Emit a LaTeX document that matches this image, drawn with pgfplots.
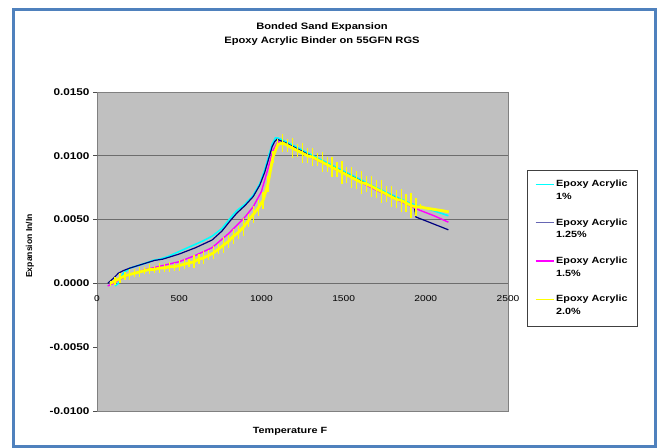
\documentclass[border=0pt]{standalone}
\usepackage{pgfplots}
\pgfplotsset{compat=1.18}
\usepackage{fontspec}
\setmainfont{Liberation Sans}[FakeStretch=1.2]
\newfontfamily\plainsans{Liberation Sans}
\definecolor{framebl}{RGB}{79,129,189}
\definecolor{plotgray}{RGB}{192,192,192}
\definecolor{gridgray}{RGB}{128,128,128}
\definecolor{ecyan}{RGB}{0,255,255}
\definecolor{enavy}{RGB}{0,0,128}
\definecolor{emag}{RGB}{255,0,255}
\definecolor{eyel}{RGB}{255,255,0}
\begin{document}
\begin{tikzpicture}[x=1bp,y=1bp]
\useasboundingbox (0,0) rectangle (665,448);
\fill[white] (0,0) rectangle (665,448);
\draw[framebl, line width=3bp] (13.5,1.5) rectangle (655,438);
\node[font=\bfseries\fontsize{9.3bp}{14bp}\selectfont, align=center] at (322,414) {Bonded Sand Expansion\\Epoxy Acrylic Binder on 55GFN RGS};
\node[font=\bfseries\fontsize{9bp}{11bp}\selectfont] at (290,17) {Temperature F};
\node[font=\plainsans\bfseries\fontsize{8.6bp}{10bp}\selectfont, rotate=90] at (30,202) {Expansion In/In};
\begin{axis}[
  at={(97bp,37bp)}, anchor=south west, scale only axis, width=411bp, height=319bp,
  xmin=0, xmax=2500, ymin=-0.01, ymax=0.015,
  axis background/.style={fill=plotgray},
  axis line style={draw=gridgray, line width=0.8bp},
  xtick={0,500,1000,1500,2000,2500}, xticklabels={0,500,1000,1500,2000,2500},
  xtick style={draw=none},
  xticklabel shift=-123bp,
  x tick label style={font=\fontsize{8.5bp}{10bp}\selectfont},
  ytick={-0.01,-0.005,0,0.005,0.01,0.015},
  yticklabels={-0.0100,-0.0050,0.0000,0.0050,0.0100,0.0150},
  y tick label style={font=\bfseries\fontsize{9.8bp}{11bp}\selectfont},
  scaled y ticks=false, scaled x ticks=false,
  ytick pos=left, tick align=outside, major tick length=4bp,
  ytick style={draw=gridgray!60!black, line width=0.6bp},
  extra y ticks={0,0.005,0.01}, extra y tick labels={},
  extra y tick style={grid=major, major tick length=0pt, grid style={draw=gridgray!85!black, line width=0.9bp}},
  legend style={at={(1.0455,0.7555)}, anchor=north west, draw=gridgray!50!black, line width=0.6bp, fill=white,
    font=\bfseries\fontsize{9bp}{12.7bp}\selectfont, cells={align=left}, row sep=13.6bp,
    inner xsep=8bp, inner ysep=8bp},
  legend cell align=left,
]
\addplot[ecyan, line width=1.6bp,
  legend image code/.code={\draw[ecyan, line width=1.2bp] (0bp,6.3bp) -- (18bp,6.3bp);}] coordinates {
(110,-0.0002) (130,0.0000) (160,0.0008) (200,0.0012) (250,0.0014) (300,0.0016) (340,0.0018)
(380,0.0019) (430,0.0021) (500,0.0025) (570,0.0029) (640,0.0033) (700,0.0037) (760,0.0043)
(810,0.0051) (850,0.0057) (900,0.0062) (950,0.0069) (990,0.0078) (1020,0.0089) (1045,0.0100)
(1065,0.0109) (1085,0.0114) (1100,0.0114) (1150,0.0111) (1300,0.0101) (1500,0.0088)
(1700,0.0075) (1900,0.0063) (1950,0.0061) (2000,0.0059) (2070,0.0056) (2137,0.0053)
};
\addlegendentry{Epoxy Acrylic\\1\%}
\addplot[enavy, line width=1.2bp,
  legend image code/.code={\draw[enavy!60, line width=1.2bp] (0bp,6.3bp) -- (18bp,6.3bp);}] coordinates {
(65,0.0000) (100,0.0004) (130,0.0008) (160,0.0010) (200,0.0012) (250,0.0014) (300,0.0016)
(350,0.0018) (400,0.0019) (450,0.0021) (500,0.0023) (600,0.0028) (700,0.0034) (760,0.0041)
(810,0.0049) (850,0.0055) (900,0.0061) (950,0.0068) (990,0.0077) (1020,0.0087) (1045,0.0098)
(1065,0.0107) (1080,0.0111) (1095,0.0113) (1150,0.0110) (1300,0.0100) (1500,0.0087)
(1700,0.0074) (1900,0.0062) (1930,0.0060) (1940,0.0052) (2000,0.0049) (2137,0.0042)
};
\addlegendentry{Epoxy Acrylic\\1.25\%}
\addplot[emag, line width=1.4bp,
  legend image code/.code={\draw[emag, line width=1.2bp] (0bp,6.3bp) -- (18bp,6.3bp);}] coordinates {
(65,-0.0002) (100,0.0000) (150,0.0004) (200,0.0007) (300,0.0011) (400,0.0014) (500,0.0017)
(600,0.0022) (700,0.0028) (800,0.0039) (900,0.0052) (950,0.0060) (1000,0.0072) (1040,0.0090)
(1070,0.0104) (1100,0.0111) (1150,0.0109) (1300,0.0099) (1500,0.0086) (1700,0.0073)
(1900,0.0061) (1950,0.0058) (2050,0.0053) (2137,0.0048)
};
\addlegendentry{Epoxy Acrylic\\1.5\%}
\addplot[eyel, line width=2.8bp,
  legend image code/.code={\draw[eyel, line width=1.2bp] (0bp,6.3bp) -- (18bp,6.3bp);},
  error bars/.cd, y dir=both, y explicit, error mark=none,
  error bar style={eyel, line width=1.2bp}] table[x=x, y=y, y error=e] {
x y e
80 0.0000 0.0002
110 0.0002 0.0003
140 0.0004 0.0004
170 0.0006 0.0003
200 0.0007 0.0004
230 0.0008 0.0003
260 0.0009 0.0004
290 0.0010 0.0003
320 0.0011 0.0004
350 0.0011 0.0003
380 0.0012 0.0004
410 0.0012 0.0003
440 0.0013 0.0004
470 0.0013 0.0003
500 0.0014 0.0004
530 0.0015 0.0004
560 0.0016 0.0003
590 0.0017 0.0005
620 0.0019 0.0004
650 0.0020 0.0005
680 0.0022 0.0004
710 0.0024 0.0005
740 0.0027 0.0004
770 0.0030 0.0006
800 0.0033 0.0005
830 0.0037 0.0006
860 0.0040 0.0005
890 0.0044 0.0007
920 0.0049 0.0005
950 0.0054 0.0007
980 0.0059 0.0006
1010 0.0065 0.0007
1040 0.0078 0.0006
1070 0.0099 0.0005
1100 0.0109 0.0004
1130 0.0110 0.0007
1160 0.0108 0.0005
1190 0.0106 0.0008
1220 0.0104 0.0005
1250 0.0102 0.0008
1280 0.0100 0.0006
1310 0.0099 0.0007
1340 0.0097 0.0005
1370 0.0095 0.0008
1400 0.0093 0.0006
1430 0.0091 0.0008
1460 0.0089 0.0006
1490 0.0087 0.0009
1520 0.0085 0.0006
1550 0.0083 0.0008
1580 0.0081 0.0007
1610 0.0079 0.0009
1640 0.0078 0.0006
1670 0.0076 0.0008
1700 0.0074 0.0007
1730 0.0072 0.0009
1760 0.0070 0.0006
1790 0.0068 0.0008
1820 0.0066 0.0007
1850 0.0065 0.0009
1880 0.0063 0.0007
1910 0.0061 0.0010
1940 0.0060 0.0007
1970 0.0060 0.0002
2000 0.0059 0.0000
2050 0.0058 0.0000
2100 0.0057 0.0000
2140 0.0056 0.0000
};
\addlegendentry{Epoxy Acrylic\\2.0\%}
\end{axis}
\end{tikzpicture}
\end{document}
